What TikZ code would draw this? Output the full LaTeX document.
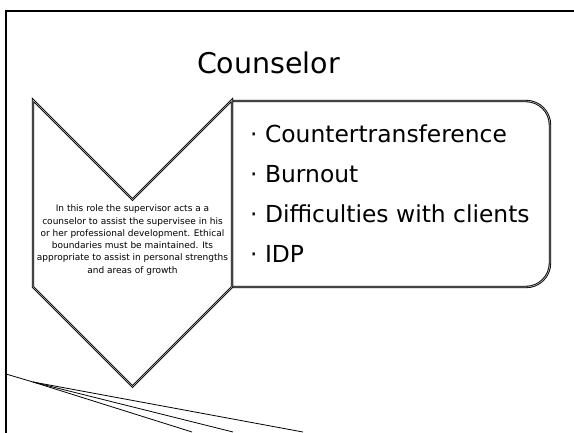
\documentclass[tikz,border=0pt]{standalone}
\usepackage{fontspec}
\setmainfont{DejaVu Sans}
\begin{document}
\begin{tikzpicture}[x=1pt,y=-1pt,
  edge/.style={draw=black, line width=0.9pt, double=gray!50, double distance=0.6pt, line join=miter, fill=white},
  frameline/.style={line width=2pt},
  fan/.style={line width=0.8pt},
  item/.style={anchor=base west, inner sep=0pt, font=\fontsize{23.4}{28}\selectfont},
]
\useasboundingbox (0,0) rectangle (574,432);
% slide frame
\draw[frameline] (6,440) -- (6,11) -- (580,11);
% title
\node[anchor=base, inner sep=0pt, font=\fontsize{28.5}{34}\selectfont] (title) at (268.5,73) {Counselor};
% rounded box
\draw[edge] (232,101) -- (526,101) arc[start angle=-90,end angle=0,radius=24]
  -- (550,263) arc[start angle=0,end angle=90,radius=24] -- (232,287) -- cycle;
% chevron
\draw[edge] (33,100) -- (132.5,199.5) -- (232,100) -- (232,287) -- (132.5,386.5) -- (33,287) -- cycle;
\node[align=center, font=\fontsize{9}{12.3}\selectfont, inner sep=0pt] (desc) at (132.5,240)
  {In this role the supervisor acts a a\\counselor to assist the supervisee in his\\or her professional development. Ethical\\boundaries must be maintained. Its\\appropriate to assist in personal strengths\\and areas of growth};
% bullet items
\node[item] (b1) at (250,142) {· Countertransference};
\node[item] (b2) at (250,182) {· Burnout};
\node[item] (b3) at (250,222) {· Difficulties with clients};
\node[item] (b4) at (250,262) {· IDP};
% fan of lines at the bottom left
\coordinate (f0) at (6,374);
\coordinate (f1) at (33,382);
\coordinate (e1) at (192,432);
\coordinate (e2) at (233,432);
\coordinate (e3) at (303,432);
\draw[fan] (f0) -- (f1);
\draw[fan] (f1) -- (e1);
\draw[fan] (f1) -- (e2);
\draw[fan] (f1) -- (e3);
\end{tikzpicture}
\end{document}
